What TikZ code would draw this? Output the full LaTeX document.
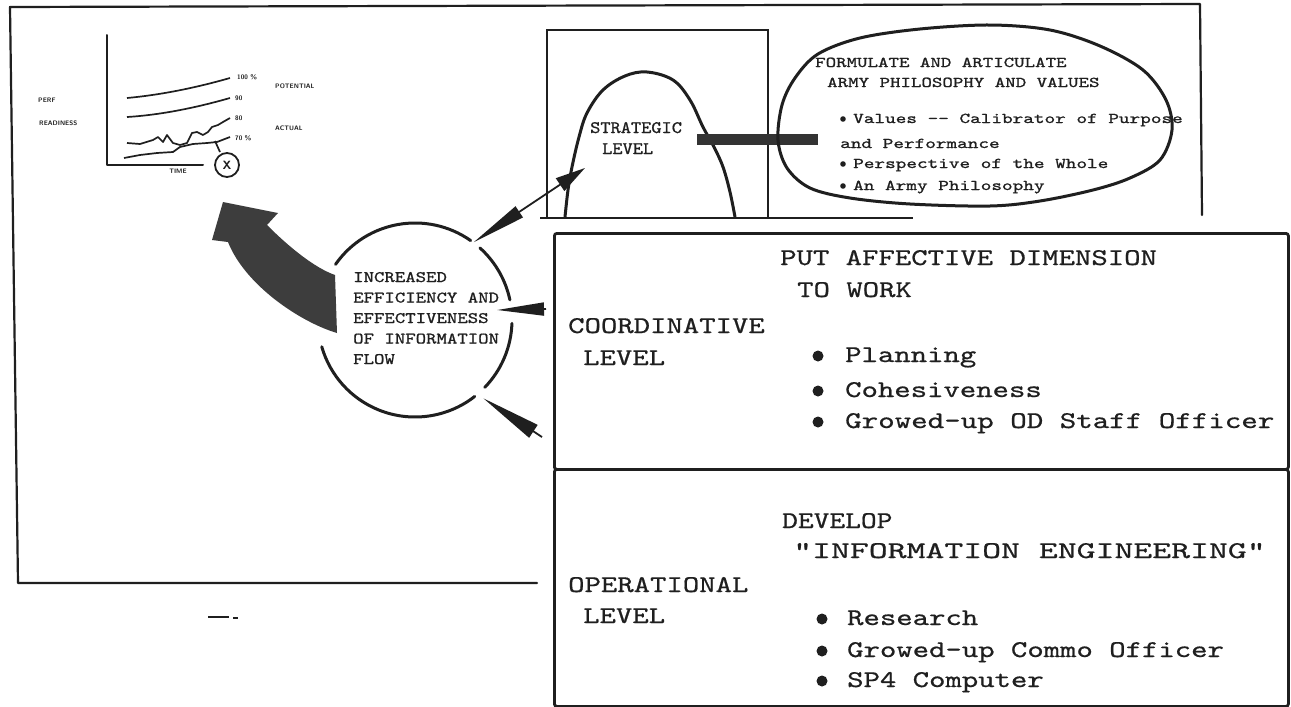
\documentclass[tikz,border=0pt]{standalone}
\usepackage{fontspec}
\usepackage{graphicx}
\usetikzlibrary{arrows.meta,calc}
\definecolor{inkc}{gray}{0.12}
\newfontfamily\twfont{lmmono10-regular.otf}[FakeBold=0.6]
\newfontfamily\twsmall{lmmono10-regular.otf}[FakeBold=0.9]
\newcommand{\hs}[2]{\scalebox{#1}[1]{#2}}

\begin{document}
\begin{tikzpicture}[x=1pt,y=-1pt,
  ink/.style={draw=inkc, line width=3pt, line cap=round, line join=round},
  frame/.style={draw=inkc, line width=2.2pt, line cap=round, line join=round},
  thinline/.style={draw=inkc, line width=1.6pt},
  crv/.style={draw=inkc, line width=1.7pt, line join=round},
  arr/.style={draw=inkc, line width=1.8pt},
  lvl/.style={draw=inkc, line width=2.8pt, rounded corners=2.5pt, inner sep=0pt, anchor=north west},
  tw/.style={anchor=base west, inner sep=0pt, text=inkc, font=\fontsize{24}{24}\selectfont\twfont},
  tws/.style={anchor=base west, inner sep=0pt, text=inkc, font=\fontsize{16}{16}\selectfont\twsmall},
  twh/.style={anchor=base west, inner sep=0pt, text=inkc, font=\fontsize{17.5}{17.5}\selectfont\twsmall},
  two/.style={anchor=base west, inner sep=0pt, text=inkc, font=\fontsize{15}{15}\selectfont\twsmall},
  tiny/.style={inner sep=0pt, text=inkc, font=\fontsize{6.5}{6.5}\selectfont\sffamily\bfseries},
]
\useasboundingbox (0,0) rectangle (1291,707);
\fill[white] (0,0) rectangle (1291,707);

% ---- outer frame of the left panel
\draw[frame] (1202,215) -- (1200,4) -- (10,7) -- (18,583) -- (537,583);

% ---- readiness chart
\draw[frame, line width=2pt] (107,35) -- (107,165) -- (203,165);
\draw[crv] (127,98) .. controls (160,95) and (195,88) .. (230,78);
\draw[crv] (127,117) .. controls (160,115) and (195,108) .. (230,98);
\draw[crv] plot coordinates {(127,143) (140,144) (153,140) (158,137) (163,142) (167,135) (170,139) (173,143) (180,145) (187,143) (192,133) (197,132) (203,135) (208,132) (212,127) (218,125) (223,122) (230,118)};
\draw[crv] plot coordinates {(124,158) (140,155) (157,153) (173,152) (180,147) (193,144) (207,143) (217,142) (230,137)};
\draw[crv] (215,141) -- (220,152);
\node[draw=inkc, line width=1.8pt, circle, minimum size=24pt, inner sep=0pt, text=inkc,
      font=\fontsize{12}{12}\selectfont\sffamily\bfseries] (xmark) at (227,165) {X};
\node[tiny, anchor=west] (perf) at (38,100) {PERF};
\node[tiny, anchor=west] (ready) at (39,123) {READINESS};
\node[tiny, anchor=west] (pot) at (275,86) {POTENTIAL};
\node[tiny, anchor=west] (act) at (275,128) {ACTUAL};
\node[tiny] (time) at (178,171) {TIME};
\node[tiny, anchor=west] (l1) at (237,77) {100 \%};
\node[tiny, anchor=west] (l2) at (235,98) {90};
\node[tiny, anchor=west] (l3) at (235,118) {80};
\node[tiny, anchor=west] (l4) at (235,138) {70 \%};

% small mark under the panel
\draw[inkc, line width=1.6pt] (208,617) -- (229,617);
\draw[inkc, line width=1.2pt] (233,618) -- (238,618);

% ---- strategic level
\draw[thinline] (547,218) -- (547,30) -- (768,30) -- (768,218);
\draw[inkc, line width=2pt] (540,218) -- (913,218);
\draw[ink] plot[smooth, tension=0.6] coordinates {(565,217) (568,190) (572,167) (579,137) (587,113) (603,90) (625,76) (647,72) (673,80) (690,100) (703,127) (714,147) (723,167) (730,192) (735,217)};
\node[twh] (strat1) at (590,133) {\hs{1.11}{STRATEGIC}};
\node[twh] (strat2) at (602,154) {\hs{1.11}{LEVEL}};
\coordinate (hilltip) at (585,168);

% bar joining the hill to the oval
\draw[draw=black!80, line width=11pt] (697,139) -- (818,139);

% ---- oval of values
\draw[ink] plot[smooth cycle, tension=0.55] coordinates {(818,54) (860,38) (920,29) (990,25) (1050,30) (1100,46) (1143,70) (1166,100) (1172,130) (1160,160) (1130,178) (1093,190) (1040,201) (990,206) (910,204) (850,198) (810,188) (787,168) (778,140) (782,105) (795,78)};
\node[two] (o1) at (815,67) {\hs{1.33}{FORMULATE AND ARTICULATE}};
\node[two] (o2) at (827,87) {\hs{1.33}{ARMY PHILOSOPHY AND VALUES}};
\node[two] (o3) at (853,123) {\hs{1.35}{Values -- Calibrator of Purpose}};
\node[two] (o4) at (840,148) {\hs{1.35}{and Performance}};
\node[two] (o5) at (853,168) {\hs{1.35}{Perspective of the Whole}};
\node[two] (o6) at (853,190) {\hs{1.35}{An Army Philosophy}};
\foreach \yy in {119,164,186} \fill[inkc] (843,\yy) circle[radius=2.8];

% ---- information flow circle
\node[circle, minimum size=194pt, inner sep=0pt] (flow) at (415,320) {};
\foreach \a/\b in {-145/-55, -48/-12, 2/44, 52/164}
  \draw[ink] ($(flow.center)+(\a:97)$) arc[start angle=\a, end angle=\b, radius=97];
\foreach \t [count=\i] in {INCREASED, EFFICIENCY AND, EFFECTIVENESS, OF INFORMATION, FLOW}
  \node[tws] (ftext\i) at (353,{282+20.5*(\i-1)}) {\hs{1.24}{\t}};

% big arrow towards the chart
\fill[black!76] (223,202) -- (278,213) -- (267,225)
  .. controls (290,248) and (315,268) .. (335,275) -- (337,333)
  .. controls (300,322) and (245,285) .. (228,242) -- (212,240) -- cycle;

% ---- coordinative and operational levels
\node[lvl, minimum width=734pt, minimum height=236pt] (coord) at (553,232) {};
\node[lvl, minimum width=734pt, minimum height=237pt] (oper) at (553,468) {};

\node[tw] (c1) at (780,265) {\hs{1.3}{PUT AFFECTIVE DIMENSION}};
\node[tw] (c2) at (797,297) {\hs{1.3}{TO WORK}};
\node[tw] (c3) at (568,333) {\hs{1.3}{COORDINATIVE}};
\node[tw] (c4) at (583,365) {\hs{1.3}{LEVEL}};
\node[tw] (c5) at (845,362) {\hs{1.3}{Planning}};
\node[tw] (c6) at (845,397) {\hs{1.3}{Cohesiveness}};
\node[tw] (c7) at (845,428) {\hs{1.31}{Growed-up OD Staff Officer}};
\foreach \yy in {356,391,422} \fill[inkc] (818,\yy) circle[radius=5.5];

\node[tw] (p1) at (782,528) {\hs{1.25}{DEVELOP}};
\node[tw] (p2) at (793,558) {\hs{1.5}{"INFORMATION ENGINEERING"}};
\node[tw] (p3) at (568,592) {\hs{1.3}{OPERATIONAL}};
\node[tw] (p4) at (583,623) {\hs{1.3}{LEVEL}};
\node[tw] (p5) at (847,625) {\hs{1.3}{Research}};
\node[tw] (p6) at (847,657) {\hs{1.3}{Growed-up Commo Officer}};
\node[tw] (p7) at (847,687) {\hs{1.3}{SP4 Computer}};
\foreach \yy in {619,651,681} \fill[inkc] (822,\yy) circle[radius=5.5];

% ---- arrows into the circle
\draw[arr, {Triangle[length=55pt,width=13pt]}-{Triangle[length=30pt,width=15pt]}] (flow.53) -- (hilltip);
\coordinate (midtail) at (546,309);
\draw[arr, -{Triangle[length=47pt,width=13pt]}] (midtail) -- ($(flow.center)+(82,-10)$);
\coordinate (lowtail) at (542,437);
\draw[arr, shorten >=7pt, -{Triangle[length=60pt,width=15pt]}] (lowtail) -- (flow.-50);
\end{tikzpicture}
\end{document}
